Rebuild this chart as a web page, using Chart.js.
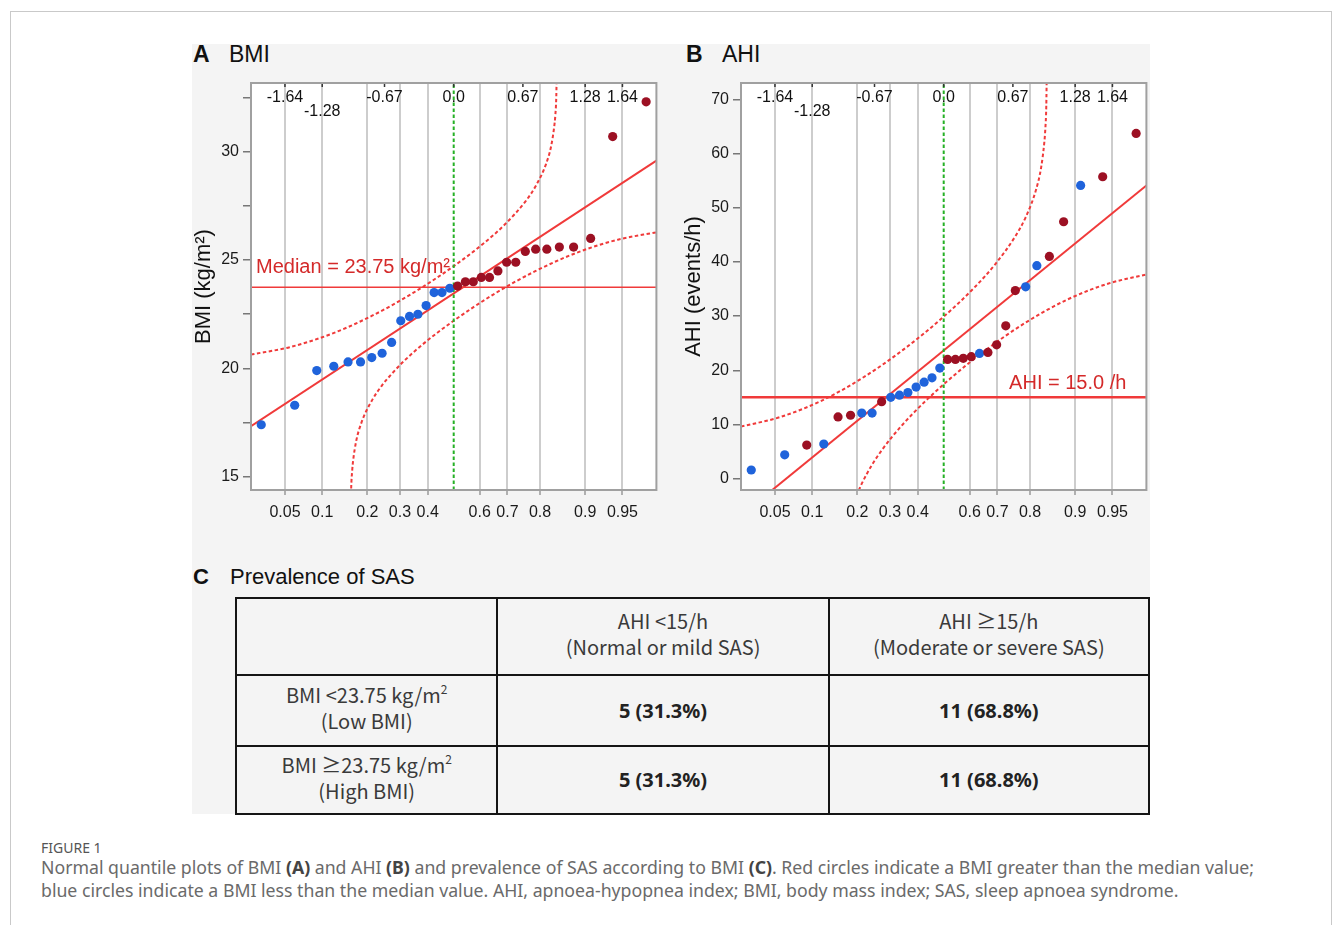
<!DOCTYPE html>
<html>
<head>
<meta charset="utf-8">
<script src="https://cdn.jsdelivr.net/npm/chart.js@4.4.1/dist/chart.umd.min.js"></script>
<style>
  body { margin: 0; background: #fff; font-family: "Liberation Sans", Arial, sans-serif; }
  #frame { position: absolute; left: 10px; top: 11px; width: 1322px; height: 1000px; border: 1px solid #c9c9c9; box-sizing: border-box; }
  #panel { position: absolute; left: 192px; top: 44px; width: 958px; height: 770px; background: #f4f4f4; }
  .hd { position: absolute; font-size: 23px; line-height: 1; color: #111; }
  .hd.b { font-weight: bold; }
  .box { position: absolute; top: 44px; width: 470px; height: 486px; }
  table { position: absolute; left: 235px; top: 597px; width: 915px; border-collapse: collapse;
          font-family: "Noto Sans CJK JP", "Noto Sans", sans-serif; font-size: 20px; color: #3a3a3a; }
  td { border: 2px solid #151515; text-align: center; line-height: 26px; padding: 0 0 5px 0; }
  td.v { font-weight: bold; color: #222; font-family: "Noto Sans", sans-serif; padding: 0; }
  sup { font-size: 12px; line-height: 0; vertical-align: 9px; }
  #cap { position: absolute; left: 41px; top: 839px; font-family: "Noto Sans", sans-serif; color: #6a6a6a; }
  #cap .fig { font-size: 14px; line-height: 17px; color: #555; }
  #cap .txt { font-size: 17.7px; line-height: 23px; margin-top: 0; }
  #cap b { color: #444; }
</style>
</head>
<body>
<div id="frame"></div>
<div id="panel"></div>

<div class="hd b" style="left:193px; top:43px;">A</div>
<div class="hd" style="left:229px; top:43px;">BMI</div>
<div class="hd b" style="left:686px; top:43px;">B</div>
<div class="hd" style="left:722px; top:43px;">AHI</div>

<div class="box" style="left:191px;"><canvas id="chartA"></canvas></div>
<div class="box" style="left:681px;"><canvas id="chartB"></canvas></div>

<div class="hd b" style="left:193px; top:566px; font-size:22px;">C</div>
<div class="hd" style="left:230px; top:566px; font-size:22px;">Prevalence of SAS</div>

<table>
  <colgroup><col style="width:262px"><col style="width:332px"><col style="width:321px"></colgroup>
  <tr style="height:77px"><td></td><td>AHI &lt;15/h<br>(Normal or mild SAS)</td><td>AHI ≥15/h<br>(Moderate or severe SAS)</td></tr>
  <tr style="height:71px"><td>BMI &lt;23.75 kg/m<sup>2</sup><br>(Low BMI)</td><td class="v">5 (31.3%)</td><td class="v">11 (68.8%)</td></tr>
  <tr style="height:68px"><td>BMI ≥23.75 kg/m<sup>2</sup><br>(High BMI)</td><td class="v">5 (31.3%)</td><td class="v">11 (68.8%)</td></tr>
</table>

<div id="cap">
  <div class="fig">FIGURE 1</div>
  <div class="txt">Normal quantile plots of BMI <b>(A)</b> and AHI <b>(B)</b> and prevalence of SAS according to BMI <b>(C)</b>. Red circles indicate a BMI greater than the median value;<br>blue circles indicate a BMI less than the median value. AHI, apnoea-hypopnea index; BMI, body mass index; SAS, sleep apnoea syndrome.</div>
</div>

<script>
// normal quantile positions of the 32 ranked subjects
const quantileZ = [-1.876, -1.550, -1.335, -1.169, -1.030, -0.908, -0.799, -0.698,
                   -0.605, -0.516, -0.431, -0.349, -0.269, -0.191, -0.114, -0.038,
                    0.038, 0.114, 0.191, 0.269, 0.349, 0.431, 0.516, 0.605,
                    0.698, 0.799, 0.908, 1.030, 1.169, 1.335, 1.550, 1.876];

// BMI sorted (first 16 below median = blue)
const bmi = [17.4, 18.3, 19.9, 20.1, 20.3, 20.3, 20.5, 20.7, 21.2, 22.2, 22.4, 22.5, 22.9, 23.5, 23.5, 23.7,
             23.8, 24.0, 24.0, 24.2, 24.2, 24.5, 24.9, 24.9, 25.4, 25.5, 25.5, 25.6, 25.6, 26.0, 30.7, 32.3];

// AHI sorted, with BMI group of each subject (L = low BMI, H = high BMI)
const ahi = [1.6, 4.4, 6.2, 6.4, 11.4, 11.7, 12.1, 12.1, 14.2, 15.0, 15.4, 15.9, 16.9, 17.8, 18.6, 20.4,
             22.0, 22.0, 22.2, 22.5, 23.1, 23.3, 24.7, 28.2, 34.7, 35.4, 39.3, 41.0, 47.4, 54.1, 55.7, 63.7];
const ahiGroup = ['L','L','H','L','H','H','L','L','H','L','L','L','L','L','L','L',
                  'H','H','H','H','L','H','H','H','H','L','L','H','H','L','H','H'];

// fitted normal lines
const fitZ = [-1.976, 1.976];
const bmiFit = [17.33, 29.59];
const ahiFit = [-6.78, 54.08];

// Lilliefors confidence bounds
const bmiUpperZ = [-1.976, -1.6, -1.2, -0.8, -0.4, 0, 0.3, 0.5, 0.7, 0.8, 0.9, 0.95, 0.98, 0.99, 1.0, 1.005];
const bmiUpper  = [20.64, 20.98, 21.58, 22.42, 23.47, 24.72, 25.80, 26.65, 27.71, 28.42, 29.43, 30.26, 31.16, 31.64, 32.54, 33.85];
const bmiLowerZ = [-1.005, -1.0, -0.99, -0.98, -0.95, -0.9, -0.8, -0.7, -0.6, -0.5, -0.3, 0, 0.4, 0.8, 1.2, 1.6, 1.976];
const bmiLower  = [13.07, 14.38, 15.26, 15.76, 16.66, 17.49, 18.50, 19.21, 19.77, 20.27, 21.12, 22.20, 23.45, 24.50, 25.34, 25.94, 26.28];
const ahiUpperZ = [-1.976, -1.6, -1.2, -0.8, -0.4, 0, 0.3, 0.5, 0.7, 0.8, 0.9, 0.95, 0.98, 0.99, 1.0, 1.005];
const ahiUpper  = [9.62, 11.33, 14.30, 18.49, 23.71, 29.89, 35.28, 39.51, 44.78, 48.27, 53.30, 57.44, 61.90, 64.31, 68.77, 75.24];
const ahiLowerZ = [-0.85, -0.826, -0.8, -0.7, -0.6, -0.5, -0.3, 0, 0.4, 0.8, 1.2, 1.6, 1.976];
const ahiLower  = [-3.18, -2.09, -0.97, 2.52, 5.34, 7.79, 12.02, 17.41, 23.59, 28.81, 33.0, 35.97, 37.68];

// cut-offs
const bmiMedian = 23.75;
const ahiCut = 15.0;

// axes
const probLabels = ['0.05', '0.1', '0.2', '0.3', '0.4', '0.6', '0.7', '0.8', '0.9', '0.95'];
const probZ = [-1.645, -1.2816, -0.8416, -0.5244, -0.2533, 0.2533, 0.5244, 0.8416, 1.2816, 1.645];
const topLabels = ['-1.64', '-1.28', '-0.67', '0.0', '0.67', '1.28', '1.64'];
const topZ = [-1.645, -1.2816, -0.6745, 0, 0.6745, 1.2816, 1.645];
const bmiTicks = [15, 17.5, 20, 22.5, 25, 27.5, 30, 32.5];
const bmiTickLabels = ['15', '', '20', '', '25', '', '30', ''];
const ahiTicks = [0, 10, 20, 30, 40, 50, 60, 70];
const ahiTickLabels = ['0', '10', '20', '30', '40', '50', '60', '70'];

const X_MIN = -1.976, X_MAX = 1.976;
const BLUE = '#1f63db', DARKRED = '#9c1023', RED = '#f03a3a', GREEN = '#25b025';

Chart.defaults.font.family = '"Liberation Sans", Arial, sans-serif';
Chart.defaults.color = '#1a1a1a';

const pairs = (xs, ys) => xs.map((x, i) => ({ x: x, y: ys[i] }));

const plotDecor = {
  id: 'plotDecor',
  beforeDraw(chart) {
    const a = chart.chartArea, ctx = chart.ctx;
    ctx.save();
    ctx.fillStyle = '#fff';
    ctx.fillRect(a.left, a.top, a.right - a.left, a.bottom - a.top);
    ctx.restore();
  },
  afterDraw(chart, args, opts) {
    const a = chart.chartArea, ctx = chart.ctx, xs = chart.scales.x, ys = chart.scales.y;
    ctx.save();
    // top z-score ticks and labels
    ctx.font = '16px "Liberation Sans", Arial, sans-serif';
    ctx.textAlign = 'center';
    ctx.textBaseline = 'middle';
    topZ.forEach((z, i) => {
      const px = xs.getPixelForValue(z);
      ctx.strokeStyle = '#333';
      ctx.lineWidth = 1.5;
      ctx.beginPath();
      ctx.moveTo(px, a.top);
      ctx.lineTo(px, a.top + 4);
      ctx.stroke();
      ctx.fillStyle = '#111';
      ctx.fillText(topLabels[i], px, a.top + (i === 1 ? 29 : 15));
    });
    // cut-off note
    ctx.font = '20px "Liberation Sans", Arial, sans-serif';
    ctx.fillStyle = '#d42a2a';
    ctx.textBaseline = 'alphabetic';
    ctx.textAlign = opts.align;
    const ny = ys.getPixelForValue(opts.value) - opts.lift;
    ctx.fillText(opts.text, opts.align === 'left' ? a.left + 5 : a.right - 20, ny);
    // frame
    ctx.strokeStyle = '#a0a0a0';
    ctx.lineWidth = 2;
    ctx.strokeRect(a.left, a.top, a.right - a.left, a.bottom - a.top);
    ctx.restore();
  }
};

function makeChart(id, cfg) {
  const pointColors = cfg.groups.map(g => g === 'L' ? BLUE : DARKRED);
  return new Chart(document.getElementById(id), {
    type: 'scatter',
    data: {
      datasets: [
        { data: pairs(quantileZ, cfg.values), pointRadius: 4.6, pointBackgroundColor: pointColors,
          pointBorderWidth: 0, order: 0 },
        { type: 'line', data: pairs(fitZ, cfg.fit), borderColor: RED, borderWidth: 2, pointRadius: 0, order: 3 },
        { type: 'line', data: pairs(cfg.upperZ, cfg.upper), borderColor: RED, borderWidth: 2, borderDash: [3.5, 2.5],
          pointRadius: 0, cubicInterpolationMode: 'monotone', order: 3 },
        { type: 'line', data: pairs(cfg.lowerZ, cfg.lower), borderColor: RED, borderWidth: 2, borderDash: [3.5, 2.5],
          pointRadius: 0, cubicInterpolationMode: 'monotone', order: 3 },
        { type: 'line', data: pairs([X_MIN, X_MAX], [cfg.cut, cfg.cut]), borderColor: RED, borderWidth: cfg.cutWidth,
          pointRadius: 0, order: 2 },
        { type: 'line', data: pairs([0, 0], [cfg.yMin, cfg.yMax]), borderColor: GREEN, borderWidth: 2, borderDash: [3.5, 2.5],
          pointRadius: 0, order: 1 }
      ]
    },
    options: {
      responsive: true,
      maintainAspectRatio: false,
      animation: false,
      layout: { padding: { left: 0, top: 39, right: 3, bottom: 0 } },
      plugins: {
        legend: { display: false },
        tooltip: { enabled: false },
        plotDecor: { text: cfg.note, value: cfg.cut, align: cfg.noteAlign, lift: cfg.noteLift }
      },
      scales: {
        x: {
          type: 'linear', min: X_MIN, max: X_MAX,
          afterBuildTicks: s => { s.ticks = probZ.map(v => ({ value: v })); },
          afterFit: s => { s.height = 40; },
          ticks: { callback: (v, i) => probLabels[i], autoSkip: false, maxRotation: 0, padding: 8,
                   font: { size: 16 }, color: '#1a1a1a' },
          grid: { color: '#cdcdcd', lineWidth: 2, drawTicks: true, tickLength: 5, tickColor: '#9a9a9a', tickWidth: 1.5 },
          border: { display: false }
        },
        y: {
          min: cfg.yMin, max: cfg.yMax,
          afterBuildTicks: s => { s.ticks = cfg.ticks.map(v => ({ value: v })); },
          afterFit: s => { s.width = 60; },
          ticks: { callback: (v, i) => cfg.tickLabels[i], autoSkip: false, padding: 4,
                   font: { size: 16 }, color: '#1a1a1a' },
          grid: { drawOnChartArea: false, tickLength: 8, color: '#777', lineWidth: 1.5 },
          border: { display: false },
          title: { display: true, text: cfg.title, font: { size: 22 }, color: '#111', padding: 0 }
        }
      }
    },
    plugins: [plotDecor]
  });
}

makeChart('chartA', {
  values: bmi, groups: bmi.map((v, i) => i < 16 ? 'L' : 'H'), fit: bmiFit,
  upperZ: bmiUpperZ, upper: bmiUpper, lowerZ: bmiLowerZ, lower: bmiLower,
  cut: bmiMedian, cutWidth: 1.5, yMin: 14.39, yMax: 33.17,
  ticks: bmiTicks, tickLabels: bmiTickLabels, title: 'BMI (kg/m²)',
  note: 'Median = 23.75 kg/m²', noteAlign: 'left', noteLift: 14
});

makeChart('chartB', {
  values: ahi, groups: ahiGroup, fit: ahiFit,
  upperZ: ahiUpperZ, upper: ahiUpper, lowerZ: ahiLowerZ, lower: ahiLower,
  cut: ahiCut, cutWidth: 2.5, yMin: -2.09, yMax: 73.0,
  ticks: ahiTicks, tickLabels: ahiTickLabels, title: 'AHI (events/h)',
  note: 'AHI = 15.0 /h', noteAlign: 'right', noteLift: 8
});
</script>
</body>
</html>
